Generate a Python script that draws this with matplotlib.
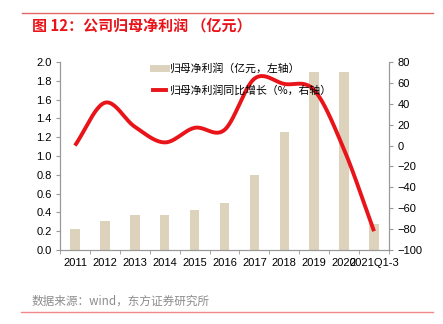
import numpy as np
import matplotlib
matplotlib.use("Agg")
import matplotlib.pyplot as plt
from matplotlib.lines import Line2D

plt.rcParams['font.family'] = ['Liberation Sans', 'Noto Sans CJK SC', 'DejaVu Sans']

categories = ['2011', '2012', '2013', '2014', '2015', '2016', '2017', '2018', '2019', '2020', '2021Q1-3']
profit = [0.22, 0.31, 0.37, 0.37, 0.43, 0.50, 0.80, 1.26, 1.89, 1.89, 0.28]
growth = [0, 41, 18, 3, 17, 15, 64, 59, 53, -4, -82]
bar_label = '归母净利润（亿元，左轴）'
line_label = '归母净利润同比增长（%，右轴）'
title = '图 12：公司归母净利润 （亿元）'
source = '数据来源：wind，东方证券研究所'

W, H = 443, 324
fig = plt.figure(figsize=(W / 100, H / 100), dpi=100)

def fx(px):
    return px / W

def fy(py):
    return 1 - py / H

ax = fig.add_axes([fx(60), fy(250), fx(389) - fx(60), fy(62) - fy(250)])
ax2 = ax.twinx()

x = np.arange(len(categories))
ax.bar(x, profit, width=0.32, color='#DDD3BC', zorder=2)
ax.set_xlim(-0.5, len(categories) - 0.5)
ax.set_ylim(0, 2.0)
ax.set_yticks(np.arange(0, 2.01, 0.2))
ax.set_yticklabels([f'{v:.1f}' for v in np.arange(0, 2.01, 0.2)])
ax.set_xticks(x)
ax.set_xticklabels(categories)
ax.set_xticks(np.arange(-0.5, len(categories), 1.0), minor=True)
ax.tick_params(axis='x', which='major', length=0, pad=6, labelsize=8)
ax.tick_params(axis='x', which='minor', length=3, color='#999999', direction='out')
ax.tick_params(axis='y', length=3, color='#999999', labelsize=8, pad=3)

# Smoothed line (Catmull-Rom through the read values)
def catmull(xs, ys, n=24):
    xs = np.asarray(xs, float); ys = np.asarray(ys, float)
    px = np.concatenate([[2 * xs[0] - xs[1]], xs, [2 * xs[-1] - xs[-2]]])
    py = np.concatenate([[2 * ys[0] - ys[1]], ys, [2 * ys[-1] - ys[-2]]])
    ox, oy = [], []
    for i in range(1, len(px) - 2):
        t = np.linspace(0, 1, n, endpoint=False)
        for arr, out in ((px, ox), (py, oy)):
            p0, p1, p2, p3 = arr[i - 1], arr[i], arr[i + 1], arr[i + 2]
            out.extend(0.5 * ((2 * p1) + (-p0 + p2) * t + (2 * p0 - 5 * p1 + 4 * p2 - p3) * t ** 2
                              + (-p0 + 3 * p1 - 3 * p2 + p3) * t ** 3))
    ox.append(xs[-1]); oy.append(ys[-1])
    return np.array(ox), np.array(oy)

sx, sy = catmull(x, growth)
ax2.plot(sx, sy, color='#E8141A', lw=2.8, solid_capstyle='butt', zorder=3)
ax2.set_ylim(-100, 80)
ax2.set_yticks(np.arange(-100, 81, 20))
ax2.tick_params(axis='y', length=3, color='#999999', labelsize=8, pad=3)

for a in (ax, ax2):
    a.spines['top'].set_visible(False)
    for s in ('left', 'right', 'bottom'):
        a.spines[s].set_color('#999999')
        a.spines[s].set_linewidth(0.8)

handles = [Line2D([], [], color='#DDD3BC', lw=5),
           Line2D([], [], color='#E8141A', lw=2.8)]
fig.legend(handles, [bar_label, line_label], loc='upper left',
           bbox_to_anchor=(fx(143), fy(53)), frameon=False,
           handlelength=1.25, handletextpad=0.25, labelspacing=1.05,
           prop={'family': ['Noto Sans CJK SC'], 'size': 7.8})

fig.add_artist(Line2D([fx(22), fx(433)], [fy(13), fy(13)], color='#E06666', lw=1.0))
fig.text(fx(32), fy(25), title, color='#E8141A', fontsize=10.8, fontweight='bold',
         va='center', ha='left', family=['Noto Sans CJK SC', 'DejaVu Sans'])
fig.text(fx(31), fy(301), source, color='#8C8C8C', fontsize=8.4, va='center', ha='left',
         family=['Noto Sans CJK SC', 'DejaVu Sans'])
fig.add_artist(Line2D([fx(21), fx(433)], [fy(311.5), fy(311.5)], color='#F08A8A', lw=1.0))

fig.savefig('out.png', dpi=100)
